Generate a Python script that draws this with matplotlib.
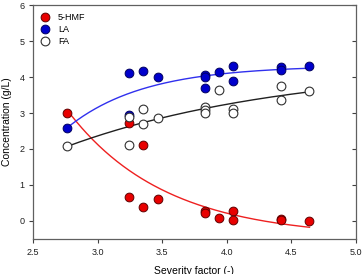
import numpy as np
import matplotlib
matplotlib.use("Agg")
import matplotlib.pyplot as plt
import matplotlib.lines as mlines

plt.rcParams['font.family'] = ['Liberation Sans', 'DejaVu Sans']

# Data (severity factor, concentration g/L)
hmf_x = [2.765, 3.242, 3.242, 3.352, 3.352, 3.464, 3.829, 3.829, 3.94, 4.051, 4.051, 4.417, 4.417, 4.64]
hmf_y = [3.00, 2.71, 0.65, 2.12, 0.39, 0.60, 0.28, 0.22, 0.09, 0.27, 0.03, 0.06, 0.02, 0.00]

la_x = [2.765, 3.242, 3.242, 3.352, 3.464, 3.829, 3.829, 3.829, 3.94, 4.051, 4.051, 4.417, 4.417, 4.64]
la_y = [2.59, 4.12, 2.95, 4.18, 3.99, 4.07, 4.00, 3.70, 4.14, 4.32, 3.90, 4.28, 4.21, 4.32]

fa_x = [2.765, 3.242, 3.242, 3.352, 3.352, 3.464, 3.829, 3.829, 3.829, 3.94, 4.051, 4.051, 4.417, 4.417, 4.64]
fa_y = [2.07, 2.12, 2.90, 3.12, 2.69, 2.85, 3.16, 3.07, 2.99, 3.65, 3.10, 3.01, 3.76, 3.37, 3.61]

# Fitted exponential models: y = c + a*exp(-k*(x - x0))
fit_x0 = 2.765
fit_x1 = 4.64
hmf_fit = (-0.473, 3.553, 1.334)
la_fit = (4.321, -1.731, 1.683)
fa_fit = (4.363, -2.293, 0.58)

xticks = [2.5, 3.0, 3.5, 4.0, 4.5, 5.0]
yticks = [0, 1, 2, 3, 4, 5, 6]

fig = plt.figure(figsize=(3.63, 2.74), dpi=100)
ax = fig.add_axes([0.0909, 0.1288, 0.8898, 0.852])

xs = np.linspace(fit_x0, fit_x1, 200)
def model(p):
    c, a, k = p
    return c + a * np.exp(-k * (xs - fit_x0))

ax.plot(xs, model(hmf_fit), color='#ee2020', lw=1.0, zorder=2)
ax.plot(xs, model(la_fit), color='#3030ee', lw=1.0, zorder=2)
ax.plot(xs, model(fa_fit), color='#202020', lw=1.0, zorder=2)

ms = 6.3
ax.plot(hmf_x, hmf_y, 'o', ms=ms, mfc='#e80000', mec='#600000', mew=0.7, ls='none', label='5-HMF', zorder=3)
ax.plot(la_x, la_y, 'o', ms=ms, mfc='#0000cc', mec='#000060', mew=0.7, ls='none', label='LA', zorder=3)
ax.plot(fa_x, fa_y, 'o', ms=ms, mfc='white', mec='#303030', mew=0.8, ls='none', label='FA', zorder=4)

ax.set_xlim(2.5, 5.0)
ax.set_ylim(-0.5, 6)
ax.set_xticks(xticks)
ax.set_xticklabels([f"{v:.1f}" for v in xticks])
ax.set_yticks(yticks)
ax.tick_params(axis='both', labelsize=6.5, length=3, width=0.8, colors='#404040', labelcolor='#202020')
ax.tick_params(axis='x', pad=4)
ax.tick_params(axis='y', right=True, direction='out', pad=3)
# right ticks pointing inward
for t in ax.yaxis.get_major_ticks():
    t.tick2line.set_marker(mlines.TICKLEFT)
for sp in ax.spines.values():
    sp.set_color('#606060')
    sp.set_linewidth(0.9)

ax.set_xlabel('Severity factor (-)', fontsize=7.5)
ax.xaxis.set_label_coords(0.5, -0.118)
ax.set_ylabel('Concentration (g/L)', fontsize=7.5)
ax.yaxis.set_label_coords(-0.066, 0.5)

leg = ax.legend(loc='upper left', bbox_to_anchor=(0.0, 1.0), frameon=False, fontsize=6.5,
                handlelength=1.0, handletextpad=0.9, labelspacing=0.35, borderaxespad=0.5,
                borderpad=0.35)

fig.savefig('out.png', dpi=100)
